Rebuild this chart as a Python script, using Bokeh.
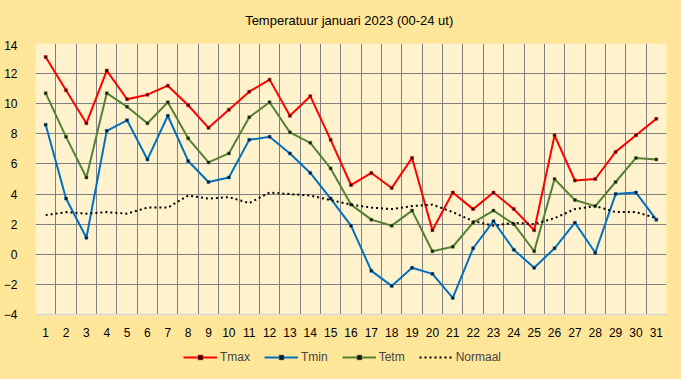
from bokeh.plotting import figure
from bokeh.layouts import column
from bokeh.models import FixedTicker, Legend, LegendItem, Range1d
from bokeh.core.properties import value
from bokeh.embed import file_html
from bokeh.resources import INLINE

title_text = "Temperatuur  januari 2023 (00-24 ut)"
days = list(range(1, 32))
tmax = [13.1, 10.9, 8.7, 12.2, 10.3, 10.6, 11.2, 9.9, 8.4, 9.6, 10.8, 11.6, 9.2, 10.5, 7.6, 4.6,
        5.4, 4.4, 6.4, 1.6, 4.1, 3.0, 4.1, 3.0, 1.6, 7.9, 4.9, 5.0, 6.8, 7.9, 9.0]
tmin = [8.6, 3.7, 1.1, 8.2, 8.9, 6.3, 9.2, 6.2, 4.8, 5.1, 7.6, 7.8, 6.7, 5.4, 3.7, 1.9,
        -1.1, -2.1, -0.9, -1.3, -2.9, 0.4, 2.2, 0.3, -0.9, 0.4, 2.1, 0.1, 4.0, 4.1, 2.3]
tetm = [10.7, 7.8, 5.1, 10.7, 9.8, 8.7, 10.1, 7.7, 6.1, 6.7, 9.1, 10.1, 8.1, 7.4, 5.7, 3.3,
        2.3, 1.9, 2.9, 0.2, 0.5, 2.1, 2.9, 2.0, 0.2, 5.0, 3.6, 3.2, 4.8, 6.4, 6.3]
normaal = [2.6, 2.8, 2.7, 2.8, 2.7, 3.1, 3.1, 3.9, 3.7, 3.8, 3.4, 4.1, 4.0, 3.9, 3.6, 3.3,
           3.1, 3.0, 3.2, 3.3, 2.8, 2.2, 1.9, 2.1, 2.0, 2.4, 3.0, 3.2, 2.8, 2.8, 2.4]
y_ticks = [-4, -2, 0, 2, 4, 6, 8, 10, 12, 14]
series_names = ["Tmax", "Tmin", "Tetm", "Normaal"]
series_colors = ["#FF0000", "#0070C0", "#548235", "#000000"]

FONT = "Liberation Sans"
BG = "#FFE699"
NAN = float("nan")


def strip(h):
    f = figure(width=681, height=h, output_backend="svg", toolbar_location=None,
               x_range=Range1d(0, 1), y_range=Range1d(0, 1), min_border=0)
    f.axis.visible = False
    f.grid.visible = False
    f.outline_line_color = None
    f.background_fill_color = BG
    f.border_fill_color = BG
    return f


# title strip
pt = strip(40)
pt.text(x=[0.5], y=[0.5], text=[title_text], text_align="center", text_baseline="middle",
        text_font=value(FONT), text_font_size="13px", text_color="#000000")

# main chart
p = figure(width=681, height=300, output_backend="svg", toolbar_location=None,
           x_range=Range1d(0.5, 31.5), y_range=Range1d(-4, 14),
           min_border_left=34, min_border_right=15, min_border_top=3, min_border_bottom=26)
p.background_fill_color = "#FFF2CC"
p.border_fill_color = BG
p.outline_line_color = None

p.xaxis.ticker = FixedTicker(ticks=days)
p.yaxis.ticker = FixedTicker(ticks=y_ticks)
p.xgrid.ticker = FixedTicker(ticks=[d + 0.5 for d in range(0, 32)])
p.ygrid.ticker = FixedTicker(ticks=y_ticks[1:])
for g in (p.xgrid, p.ygrid):
    g.grid_line_color = "#808080"
    g.grid_line_width = 1
for ax in (p.xaxis, p.yaxis):
    ax.major_tick_line_color = None
    ax.minor_tick_line_color = None
    ax.major_label_text_font = FONT
    ax.major_label_text_font_size = "12px"
    ax.major_label_text_color = "#000000"
p.yaxis.axis_line_color = None
p.xaxis.axis_line_color = "#D9D9D9"
p.xaxis.axis_line_width = 1.5
p.xaxis.major_label_standoff = 7
p.yaxis.major_label_standoff = 12

for vals, col in zip([tmax, tmin, tetm], series_colors[:3]):
    p.line(days, vals, line_color=col, line_width=2)
    p.scatter(days, vals, marker="square", size=3, fill_color="#111111",
              line_color=col, line_width=0.5)
p.line(days, normaal, line_color=series_colors[3], line_width=2, line_dash="2 3")

# legend strip (legend glyphs only; renderers hold no visible data)
pl = strip(39)
items = []
for name, col in zip(series_names, series_colors):
    if name == "Normaal":
        r = [pl.line([NAN], [NAN], line_color=col, line_width=2, line_dash="2 3")]
    else:
        r = [pl.line([NAN], [NAN], line_color=col, line_width=2),
             pl.scatter([NAN], [NAN], marker="square", size=3, fill_color="#111111",
                        line_color=col, line_width=0.5)]
    items.append(LegendItem(label=name, renderers=r))
legend = Legend(items=items, orientation="horizontal", location=(148, 15),
                background_fill_alpha=0, border_line_color=None,
                label_text_font=FONT, label_text_font_size="12px",
                label_height=14, glyph_width=34, glyph_height=12,
                spacing=14, padding=2, margin=0, label_standoff=3)
pl.add_layout(legend, "center")

layout = column(pt, p, pl, spacing=0, styles={"background-color": BG})
open("out.html", "w").write(file_html(layout, INLINE))
